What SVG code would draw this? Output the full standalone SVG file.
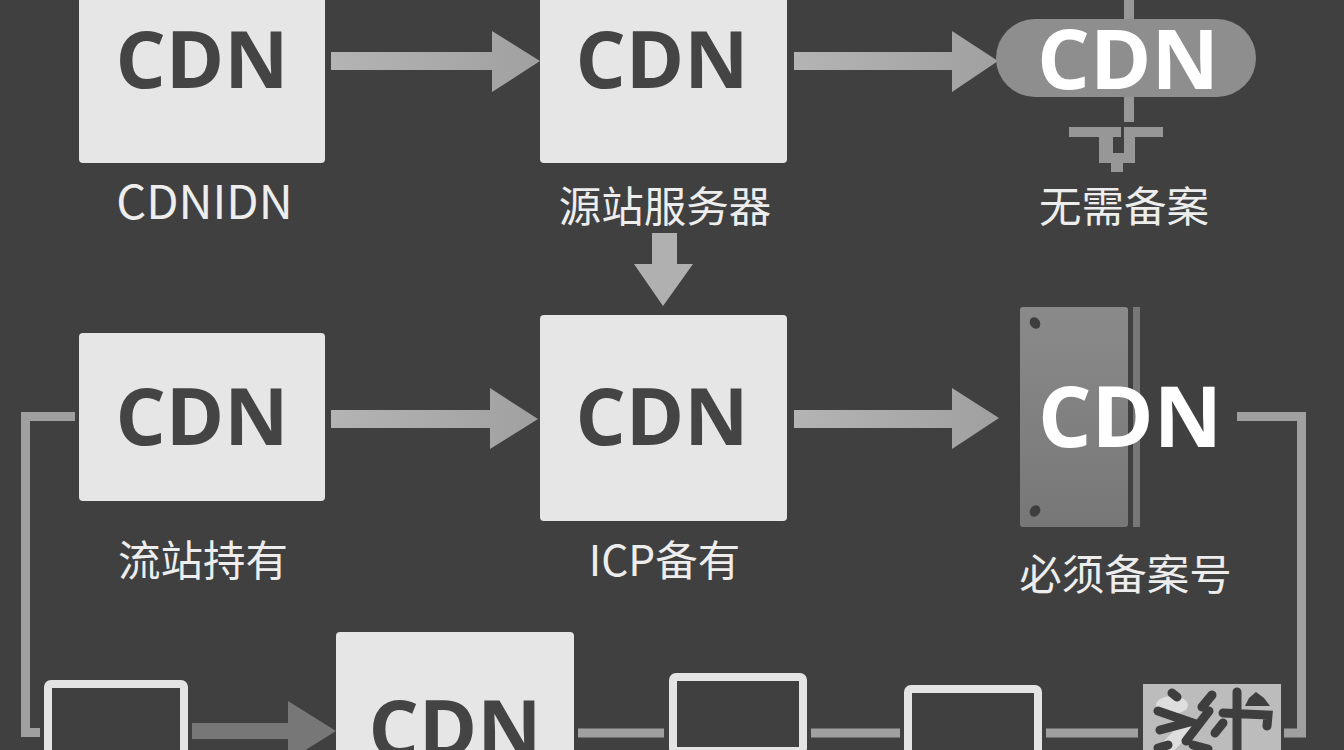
<svg xmlns="http://www.w3.org/2000/svg" width="1344" height="750" viewBox="0 0 1344 750">
<style>
.box{fill:#e6e6e6}
.cdn{font-family:"Open Sans","Noto Sans",sans-serif;font-weight:700;font-size:79px;text-anchor:middle;fill:#444}
.w{fill:#fff;font-size:83px}
.lbl{font-family:"Noto Sans CJK SC","Noto Sans",sans-serif;font-weight:400;font-size:42.500px;text-anchor:middle;fill:#ededed}
.frame{fill:none;stroke:#e4e4e4;stroke-width:8}
.arrow{fill:url(#ag)}
.line{fill:none;stroke:#a0a0a0;stroke-width:9}
.ink{fill:none;stroke:#3e3e3e;stroke-width:9;stroke-linecap:round}
</style>
<defs>
<linearGradient id="ag" x1="0" y1="0" x2="1" y2="0"><stop offset="0" stop-color="#b4b4b4"/><stop offset="1" stop-color="#a0a0a0"/></linearGradient>
<linearGradient id="pg" x1="0" y1="0" x2="0" y2="1"><stop offset="0" stop-color="#8a8a8a"/><stop offset="1" stop-color="#777"/></linearGradient>
</defs>
<rect width="1344" height="750" fill="#404040"/>
<g id="connectors">
<path class="arrow" d="M331 52H492V31L540 61 492 92V70H331Z"/>
<path class="arrow" d="M794 52H952V31L998 61 952 92V70H794Z"/>
<path class="arrow" d="M331 410H490V388L538 419 490 449V428H331Z"/>
<path class="arrow" d="M794 410H952V388L999 418 952 449V428H794Z"/>
<path fill="#b0b0b0" d="M652 233H677V264H693L663 306 634 264H652Z"/>
<path fill="#777" d="M192 723H288V701L336 731 288 761V739H192Z"/>
<path class="line" d="M75 416.500H25.500V732.500H40"/>
<path class="line" d="M1237 416.500H1301.500V733H1284"/>
<path class="line" d="M578 733H664M811 733H900M1046 733H1138"/>
<path fill="#979797" d="M1124 0H1134V19H1124ZM1124 97H1134V122H1124Z"/>
<path fill="#979797" d="M1069 127H1163V137H1135V163H1123V172H1111V163H1099V137H1069Z"/>
<path fill="#404040" d="M1121 127H1124V153H1113V137H1121Z"/>
</g>
<g id="node-cdnidn">
<rect class="box" x="79" y="-20" width="246" height="183" rx="4"/>
<text class="cdn" x="202" y="88">CDN</text>
<text class="lbl" x="204.500" y="219" style="font-size:47px">CDNIDN</text>
</g>
<g id="node-origin">
<rect class="box" x="540" y="-20" width="247" height="183" rx="4"/>
<text class="cdn" x="662" y="88">CDN</text>
<text class="lbl" x="665" y="222">源站服务器</text>
</g>
<g id="node-nofiling">
<rect x="996" y="19" width="260" height="78" rx="39" fill="#8e8e8e"/>
<text class="cdn w" x="1128" y="89">CDN</text>
<text class="lbl" x="1124" y="222">无需备案</text>
</g>
<g id="node-site">
<rect class="box" x="79" y="333" width="246" height="168" rx="4"/>
<text class="cdn" x="202" y="445">CDN</text>
<text class="lbl" x="203" y="576">流站持有</text>
</g>
<g id="node-icp">
<rect class="box" x="540" y="315" width="247" height="206" rx="4"/>
<text class="cdn" x="662" y="445">CDN</text>
<text class="lbl" x="664.500" y="576">ICP备有</text>
</g>
<g id="node-required">
<rect x="1020" y="307" width="108" height="220" rx="3" fill="url(#pg)"/>
<rect x="1133" y="307" width="7" height="220" fill="#777"/>
<ellipse cx="1035" cy="323" rx="5" ry="6" fill="#3e3e3e" transform="rotate(-35 1035 323)"/>
<ellipse cx="1035" cy="511" rx="5" ry="6" fill="#3e3e3e" transform="rotate(35 1035 511)"/>
<text class="cdn w" x="1130" y="447" style="font-size:84px">CDN</text>
<text class="lbl" x="1125.500" y="590">必须备案号</text>
</g>
<g id="node-frame-a"><rect class="frame" x="48" y="684" width="136" height="90" rx="3"/></g>
<g id="node-cdn-bottom">
<rect class="box" x="336" y="632" width="238" height="140" rx="4"/>
<text class="cdn" x="455" y="757">CDN</text>
</g>
<g id="node-frame-b"><rect class="frame" x="673" y="677" width="130" height="74" rx="3"/></g>
<g id="node-frame-c"><rect class="frame" x="908" y="689" width="130" height="90" rx="3"/></g>
<g id="node-tile">
<rect x="1143" y="684" width="138" height="70" fill="#bcbcbc"/>
<ellipse cx="1172" cy="705" rx="16" ry="9" fill="#dedede"/>
<path d="M1165 750L1190 724" stroke="#dedede" stroke-width="14" fill="none"/>
<path class="ink" d="M1172 693L1177 697M1158 711L1190 722 1160 730M1212 695L1202 707M1209 711L1186 741M1237 692V750M1223 713L1268 715 1267 726M1223 723L1215 733M1158 748L1168 745M1193 745L1208 749"/>
<path fill="#3e3e3e" d="M1245 706H1270L1264 698 1256 692 1249 698Z"/>
</g>
</svg>
